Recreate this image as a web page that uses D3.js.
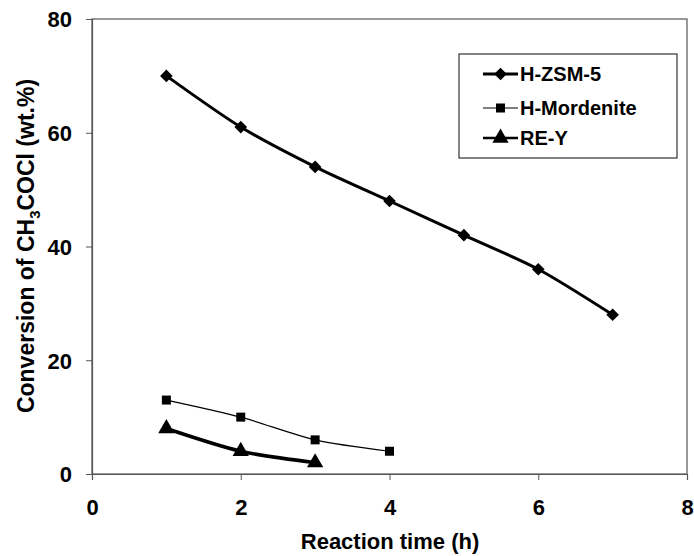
<!DOCTYPE html>
<html>
<head>
<meta charset="utf-8">
<script src="https://cdn.jsdelivr.net/npm/d3@7"></script>
<style>
  body { margin: 0; background: #fff; }
  text { font-family: "Liberation Sans", Arial, sans-serif; font-weight: bold; fill: #000; }
</style>
</head>
<body>
<div id="chart"></div>
<script>
// data
const hzsmTime = [1, 2, 3, 4, 5, 6, 7];
const hzsmConv = [70, 61, 54, 48, 42, 36, 28];
const mordTime = [1, 2, 3, 4];
const mordConv = [13, 10, 6, 4];
const reyTime = [1, 2, 3];
const reyConv = [8, 4, 2];
const xTicks = [0, 2, 4, 6, 8];
const yTicks = [0, 20, 40, 60, 80];

const W = 694, H = 556;
const margin = { top: 19, right: 7, bottom: 82, left: 92 },
    width = W - margin.left - margin.right,
    height = H - margin.top - margin.bottom;

const svg = d3.select('#chart').append('svg')
    .attr('width', W).attr('height', H);
const g = svg.append('g').attr('transform', `translate(${margin.left},${margin.top})`);

const x = d3.scaleLinear().domain([0, 8]).range([0, width]);
const y = d3.scaleLinear().domain([0, 80]).range([height, 0]);

// plot frame
g.append('rect')
    .attr('width', width).attr('height', height)
    .attr('fill', 'none').attr('stroke', '#555').attr('stroke-width', 1.2);

// axes
const xAxis = g.append('g')
    .attr('transform', `translate(0,${height})`)
    .call(d3.axisBottom(x).tickValues(xTicks).tickSize(6).tickPadding(19).tickFormat(d3.format('d')));
const yAxis = g.append('g')
    .call(d3.axisLeft(y).tickValues(yTicks).tickSize(6).tickPadding(14).tickFormat(d3.format('d')));
[xAxis, yAxis].forEach(a => {
    a.select('.domain').attr('stroke', '#555').attr('stroke-width', 1.2);
    a.selectAll('.tick line').attr('stroke', '#555');
    a.selectAll('.tick text').style('font-size', '22px').style('font-family', '"Liberation Sans", Arial, sans-serif').style('font-weight', 'bold');
});
yAxis.selectAll('.tick text').attr('dy', '0.36em');

// axis titles
svg.append('text')
    .attr('x', 390).attr('y', 549)
    .attr('text-anchor', 'middle').style('font-size', '22px')
    .text('Reaction time (h)');

const yt = svg.append('text')
    .attr('transform', 'translate(34,246) rotate(-90)')
    .attr('text-anchor', 'middle').style('font-size', '23px');
yt.append('tspan').text('Conversion of CH');
yt.append('tspan').attr('dy', 6).style('font-size', '15px').text('3');
yt.append('tspan').attr('dy', -6).text('COCl (wt.%)');

const line = d3.line()
    .x(d => x(d[0]))
    .y(d => y(d[1]))
    .curve(d3.curveCardinal.tension(0.2));

const series = [
    { name: 'H-ZSM-5', pts: d3.zip(hzsmTime, hzsmConv), sw: 3, sym: d3.symbolSquare, size: 80, rot: 45 },
    { name: 'H-Mordenite', pts: d3.zip(mordTime, mordConv), sw: 1.2, sym: d3.symbolSquare, size: 81, rot: 0 },
    { name: 'RE-Y', pts: d3.zip(reyTime, reyConv), sw: 3.5, sym: d3.symbolTriangle, size: 115, rot: 0 }
];

series.forEach(s => {
    g.append('path')
        .datum(s.pts)
        .attr('fill', 'none').attr('stroke', '#000')
        .attr('stroke-width', s.sw)
        .attr('d', line);
    g.append('g').selectAll('path')
        .data(s.pts).enter().append('path')
        .attr('d', d3.symbol().type(s.sym).size(s.size))
        .attr('transform', d => `translate(${x(d[0])},${y(d[1])}) rotate(${s.rot})`)
        .attr('fill', '#000');
});

// legend
const lg = svg.append('g').attr('transform', 'translate(459,54)');
lg.append('rect').attr('width', 218).attr('height', 104)
    .attr('fill', '#fff').attr('stroke', '#333').attr('stroke-width', 1.2);
const rowY = [20, 54, 84];
const legendSw = [3, 1.2, 2.5];
series.forEach((s, i) => {
    const row = lg.append('g').attr('transform', `translate(0,${rowY[i]})`);
    row.append('line').attr('x1', 24).attr('x2', 59)
        .attr('stroke', '#000').attr('stroke-width', legendSw[i]);
    row.append('path')
        .attr('d', d3.symbol().type(s.sym).size(s.size))
        .attr('transform', `translate(41.5,0) rotate(${s.rot})`).attr('fill', '#000');
    row.append('text').attr('x', 61).attr('y', 0).attr('dy', '0.36em')
        .style('font-size', '20px').text(s.name);
});
</script>
</body>
</html>
